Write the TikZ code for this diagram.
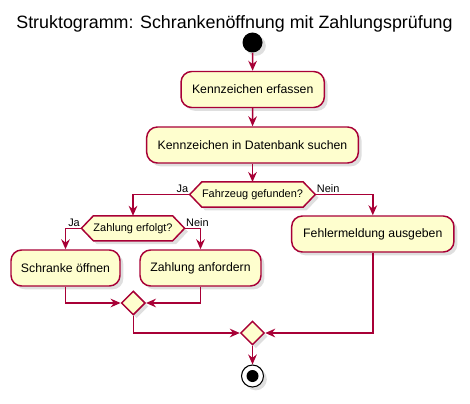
\documentclass[tikz,border=0pt]{standalone}
\usepackage{fontspec}
\setmainfont{Liberation Sans}
\usetikzlibrary{arrows.meta,shapes.geometric,shadows,backgrounds,calc}
\definecolor{umlfill}{HTML}{FEFECE}
\definecolor{umlline}{HTML}{A80036}
\begin{document}
\begin{tikzpicture}[x=0.75pt,y=-0.75pt,
  shad/.style={drop shadow={opacity=0.25,shadow xshift=2.5pt,shadow yshift=-2.5pt}},
  act/.style={rectangle, rounded corners=8pt, draw=umlline, fill=umlfill, line width=1.1pt, shad, font=\fontsize{9.2}{11}\selectfont, inner sep=0pt, minimum height=27pt},
  hexnode/.style={rectangle, inner sep=0pt, minimum height=18.4pt, font=\fontsize{8.2}{10}\selectfont},
  hexshape/.style={draw=umlline, fill=umlfill, line width=1.1pt, shad},
  merge/.style={diamond, aspect=1, draw=umlline, fill=umlfill, line width=1.1pt, shad, minimum width=18pt, minimum height=18pt, inner sep=0pt},
  arr/.style={draw=umlline, line width=1.1pt, -{Stealth[length=7.5pt,width=6.5pt,inset=2.5pt]}},
  lbl/.style={font=\fontsize{8.2}{10}\selectfont, inner sep=1pt}
]
\useasboundingbox (0,0) rectangle (470,403);
\node[font=\fontsize{13.4}{16}\selectfont, anchor=base] (title) at (234.5,29) {Struktogramm: Schrankenöffnung mit Zahlungsprüfung};

\node[circle, fill=black, minimum size=15pt, inner sep=0pt, shad] (start) at (252.5,42.5) {};
\node[act, minimum width=107.5pt] (b1) at (252.7,89.5) {Kennzeichen erfassen};
\node[act, minimum width=158.7pt] (b2) at (252.5,145) {Kennzeichen in Datenbank suchen};
\node[hexnode, minimum width=93.75pt] (h1) at (252.5,194.5) {Fahrzeug gefunden?};
\node[act, minimum width=121.7pt] (fe) at (372.8,234) {Fehlermeldung ausgeben};
\node[hexnode, minimum width=77pt] (h2) at (133,228.3) {Zahlung erfolgt?};
\node[act, minimum width=81.75pt] (s1) at (65.5,268) {Schranke öffnen};
\node[act, minimum width=90.75pt] (z1) at (200.5,268) {Zahlung anfordern};
\node[merge] (m1) at (133.3,303) {};
\node[merge] (m2) at (252.5,333) {};
\node[circle, draw=black, fill=white, line width=0.8pt, minimum size=16.5pt, inner sep=0pt, shad] (end) at (252.5,376) {};
\node[circle, fill=black, minimum size=9pt, inner sep=0pt] (endin) at (end) {};

\begin{scope}[on background layer]
\foreach \h in {h1,h2}
  \path[hexshape] (\h.west) -- ($(\h.north west)+(12,0)$) -- ($(\h.north east)+(-12,0)$) -- (\h.east) -- ($(\h.south east)+(-12,0)$) -- ($(\h.south west)+(12,0)$) -- cycle;
\end{scope}

\draw[arr] (start) -- (b1);
\draw[arr] (b1) -- (b2);
\draw[arr] (b2) -- (h1);
\draw[arr] (h1.west) -| (h2.north);
\draw[arr] (h1.east) -| (fe.north);
\draw[arr] (h2.west) -| (s1.north);
\draw[arr] (h2.east) -| (z1.north);
\draw[arr] (s1.south) |- (m1.west);
\draw[arr] (z1.south) |- (m1.east);
\draw[arr] (m1.south) |- (m2.west);
\draw[arr] (fe.south) |- (m2.east);
\draw[arr] (m2.south) -- (end);

\node[lbl, anchor=south east] (ja1) at (h1.west) {Ja};
\node[lbl, anchor=south west] (nein1) at (h1.east) {Nein};
\node[lbl, anchor=south east] (ja2) at (h2.west) {Ja};
\node[lbl, anchor=south west] (nein2) at (h2.east) {Nein};
\end{tikzpicture}
\end{document}
